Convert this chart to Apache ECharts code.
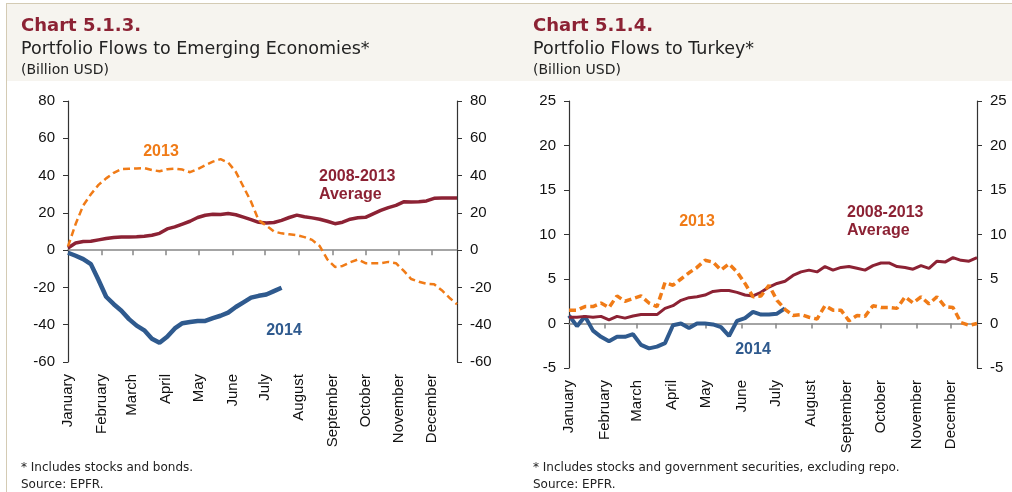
<!DOCTYPE html>
<html>
<head>
<meta charset="utf-8">
<script src="https://cdn.jsdelivr.net/npm/echarts@6/dist/echarts.min.js"></script>
<style>
  html, body { margin: 0; padding: 0; background: #fff; }
  #chart { width: 1012px; height: 492px; }
</style>
</head>
<body>
<div id="chart"></div>
<script>
const months = ['January', 'February', 'March', 'April', 'May', 'June', 'July',
  'August', 'September', 'October', 'November', 'December']
const monthStartDays = [0, 31, 59, 90, 120, 151, 181, 212, 243, 273, 304, 334]
// weekly observations, day of year of each week
const weekDays = Array.from({ length: 52 }, (_, i) => i * 7)

// Chart 5.1.3 - emerging economies (billion USD)
const emAvg = [1.2, 3.8, 4.6, 4.8, 5.5, 6.2, 6.8, 7.1, 7.1, 7.2, 7.5, 8.0, 9.0, 11.4, 12.5, 14.0,
  15.5, 17.5, 18.7, 19.3, 19.1, 19.6, 19.0, 17.7, 16.4, 14.9, 14.6, 14.8, 16.0, 17.5, 18.8, 17.9,
  17.3, 16.6, 15.5, 14.2, 15.0, 16.6, 17.4, 17.6, 19.5, 21.3, 22.8, 24.0, 25.9, 25.8, 25.9, 26.4,
  27.8, 28.0, 28.0, 28.0]
const em2013 = [2, 14, 24, 30, 35, 38.5, 41.5, 43.5, 43.7, 43.8, 44, 43, 42.3, 43.4, 43.7, 43.2,
  41.8, 43.5, 45.5, 47.5, 48.8, 47, 42, 34, 26, 16, 13.2, 10, 9, 8.5, 8, 7, 5.5, 2.2, -5, -9,
  -8.5, -6.5, -5, -7, -7, -7, -6.3, -7, -11, -15.5, -17, -18, -18.3, -21.5, -25.5, -29]
const em2014 = [-1.4, -3, -4.8, -7.5, -16, -25, -29, -32.5, -37, -40.5, -43, -47.5, -49.7, -46.5,
  -42, -39.2, -38.5, -38, -38, -36.5, -35.2, -33.5, -30.5, -28, -25.5, -24.5, -23.8, -22, -20.2]

// Chart 5.1.4 - Turkey (billion USD)
const trAvg = [0.7, 0.7, 0.8, 0.7, 0.8, 0.4, 0.8, 0.6, 0.85, 1.0, 1.0, 1.0, 1.7, 2.0, 2.6, 2.9,
  3.0, 3.2, 3.6, 3.7, 3.7, 3.5, 3.2, 3.1, 3.5, 4.1, 4.5, 4.75, 5.4, 5.8, 6.0, 5.8, 6.4, 6.0, 6.3,
  6.4, 6.2, 6.0, 6.5, 6.8, 6.8, 6.4, 6.3, 6.1, 6.5, 6.2, 7.0, 6.9, 7.4, 7.1, 7.0, 7.4]
const tr2013 = [1.5, 1.5, 1.9, 1.9, 2.3, 1.8, 3.1, 2.5, 2.8, 3.1, 2.3, 1.9, 4.6, 4.3, 5.0, 5.7,
  6.3, 7.1, 6.9, 6.0, 6.7, 5.8, 4.5, 3.0, 3.1, 4.3, 2.6, 1.6, 0.9, 1.0, 0.7, 0.5, 2.0, 1.5, 1.5,
  0.3, 0.9, 0.8, 2.0, 1.8, 1.8, 1.7, 3.0, 2.3, 3.0, 2.2, 3.0, 1.9, 1.8, 0.1, -0.2, 0.0]
const tr2014 = [0.9, -0.3, 0.8, -0.8, -1.5, -2.0, -1.5, -1.5, -1.2, -2.4, -2.8, -2.6, -2.2, -0.2,
  0.0, -0.5, 0.0, 0.0, -0.1, -0.4, -1.4, 0.3, 0.6, 1.3, 1.0, 1.0, 1.1, 1.7]

const RED = '#8c2234'
const ORANGE = '#f07b17'
const BLUE = '#2f5a8e'
const AXIS_FONT = 'Liberation Sans, Arial, sans-serif'
const TITLE_FONT = 'DejaVu Sans, sans-serif'

const pair = (vals) => vals.map((v, i) => [weekDays[i], v])

function xAxes(gridIndex) {
  const common = { type: 'value', gridIndex, min: 0, max: 357, splitLine: { show: false } }
  return [
    {
      ...common,
      axisLine: { onZero: true, lineStyle: { color: '#868686', width: 1.5 } },
      axisTick: { customValues: monthStartDays.slice(1), length: 5, lineStyle: { color: '#868686', width: 1.5 } },
      axisLabel: { show: false },
    },
    {
      ...common,
      position: 'bottom',
      axisLine: { show: false, onZero: false },
      axisTick: { show: false },
      axisLabel: {
        customValues: monthStartDays, rotate: 90, margin: 12, fontSize: 15, color: '#111',
        fontFamily: AXIS_FONT, formatter: (v) => months[monthStartDays.indexOf(v)],
      },
    },
  ]
}

function yAxes(gridIndex, min, max, interval) {
  const common = {
    type: 'value', gridIndex, min, max, interval,
    splitLine: { show: false },
    axisLine: { show: true, onZero: false, lineStyle: { color: '#333', width: 1.2 } },
    axisTick: { show: true, length: 5, lineStyle: { color: '#333' } },
    axisLabel: { fontSize: 15, color: '#111', margin: 13, fontFamily: AXIS_FONT },
  }
  return [{ ...common, position: 'left' }, { ...common, position: 'right' }]
}

function line(data, xi, yi, color, width, dashed) {
  return {
    type: 'line', xAxisIndex: xi, yAxisIndex: yi, data: pair(data), symbol: 'none',
    silent: true, animation: false,
    lineStyle: { color, width, type: dashed ? [7, 4] : 'solid', cap: 'butt' },
  }
}

function label(text, x, y, color, align) {
  return {
    type: 'text', x, y, silent: true,
    style: { text, fill: color, font: 'bold 16px ' + AXIS_FONT, align: align || 'center', verticalAlign: 'middle' },
  }
}

function headText(text, x, y, size, color, bold) {
  return {
    type: 'text', x, y, silent: true,
    style: { text, fill: color, font: (bold ? 'bold ' : '') + size + 'px ' + TITLE_FONT, align: 'left', verticalAlign: 'middle' },
  }
}

const chart = echarts.init(document.getElementById('chart'), null, { renderer: 'canvas' })

chart.setOption({
  animation: false,
  backgroundColor: '#fff',
  grid: [
    { left: 68, top: 101, width: 389, height: 261 },
    { left: 569, top: 101, width: 408, height: 267 },
  ],
  xAxis: [...xAxes(0), ...xAxes(1)],
  yAxis: [...yAxes(0, -60, 80, 20), ...yAxes(1, -5, 25, 5)],
  series: [
    line(em2014, 0, 0, BLUE, 4.5),
    line(emAvg, 0, 0, RED, 3.5),
    line(em2013, 0, 0, ORANGE, 2.5, true),
    line(tr2014, 2, 2, BLUE, 4),
    line(trAvg, 2, 2, RED, 3),
    line(tr2013, 2, 2, ORANGE, 3.5, true),
  ],
  graphic: [
    { type: 'rect', z: -10, shape: { x: 7, y: 3, width: 1005, height: 78 }, style: { fill: '#f6f4ef' }, silent: true },
    { type: 'line', z: -9, shape: { x1: 6, y1: 3.5, x2: 1012, y2: 3.5 }, style: { stroke: '#d4cbb4', lineWidth: 1 }, silent: true },
    { type: 'line', z: -9, shape: { x1: 6.5, y1: 3, x2: 6.5, y2: 492 }, style: { stroke: '#d4cbb4', lineWidth: 1 }, silent: true },

    headText('Chart 5.1.3.', 21, 26, 18, RED, true),
    headText('Portfolio Flows to Emerging Economies*', 21, 49, 17.5, '#222'),
    headText('(Billion USD)', 21, 70, 14, '#222'),
    headText('Chart 5.1.4.', 533, 26, 18, RED, true),
    headText('Portfolio Flows to Turkey*', 533, 49, 17.5, '#222'),
    headText('(Billion USD)', 533, 70, 14, '#222'),

    headText('* Includes stocks and bonds.', 21, 468, 12, '#222'),
    headText('Source: EPFR.', 21, 485, 12, '#222'),
    headText('* Includes stocks and government securities, excluding repo.', 533, 468, 12, '#222'),
    headText('Source: EPFR.', 533, 485, 12, '#222'),

    label('2013', 161, 152, ORANGE),
    label('2008-2013', 319, 177, RED, 'left'),
    label('Average', 319, 195, RED, 'left'),
    label('2014', 284, 331, BLUE),
    label('2013', 697, 222, ORANGE),
    label('2008-2013', 847, 213, RED, 'left'),
    label('Average', 847, 231, RED, 'left'),
    label('2014', 753, 350, BLUE),
  ],
})
</script>
</body>
</html>
